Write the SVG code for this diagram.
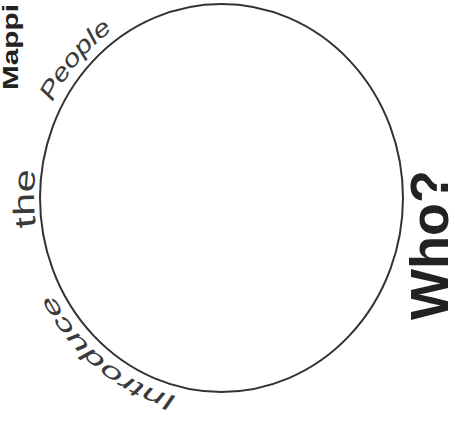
<svg xmlns="http://www.w3.org/2000/svg" width="455" height="428" viewBox="0 0 455 428">
  <style>
    .hand { font-family: "Liberation Sans", "DejaVu Sans", sans-serif; fill: #3a3a3a; }
    .bold { font-family: "Liberation Sans", Arial, sans-serif; font-weight: bold; fill: #222; }
  </style>
  <defs>
    <path id="pPeople" d="M 52.4,102.2 A 191.5 204 0 0 1 156.0,6.3" fill="none"/>
    <path id="pThe" d="M 36.0,226.9 A 187.5 200 0 0 1 45.3,129.6" fill="none"/>
    <path id="pIntro" d="M 176.8,396.4 A 191.5 204 0 0 1 36.5,250.8" fill="none"/>
  </defs>
  <rect width="455" height="428" fill="#ffffff"/>
  <g id="circle">
    <ellipse cx="221.5" cy="198" rx="181.5" ry="194" fill="none" stroke="#333" stroke-width="2"/>
  </g>
  <g id="title">
    <text class="bold" transform="translate(18,90) rotate(-90)" font-size="22" textLength="86" lengthAdjust="spacingAndGlyphs">Mappi</text>
  </g>
  <g id="people">
    <text class="hand" font-size="24" font-style="italic"><textPath href="#pPeople" textLength="95" lengthAdjust="spacingAndGlyphs">People</textPath></text>
  </g>
  <g id="the">
    <text class="hand" font-size="30"><textPath href="#pThe" textLength="57" lengthAdjust="spacingAndGlyphs">the</textPath></text>
  </g>
  <g id="introduce">
    <text class="hand" font-size="23" font-style="italic"><textPath href="#pIntro" textLength="166" lengthAdjust="spacingAndGlyphs">Introduce</textPath></text>
  </g>
  <g id="who">
    <text class="bold" transform="translate(448,320) rotate(-90)" font-size="54" textLength="150" lengthAdjust="spacingAndGlyphs">Who?</text>
  </g>
</svg>
